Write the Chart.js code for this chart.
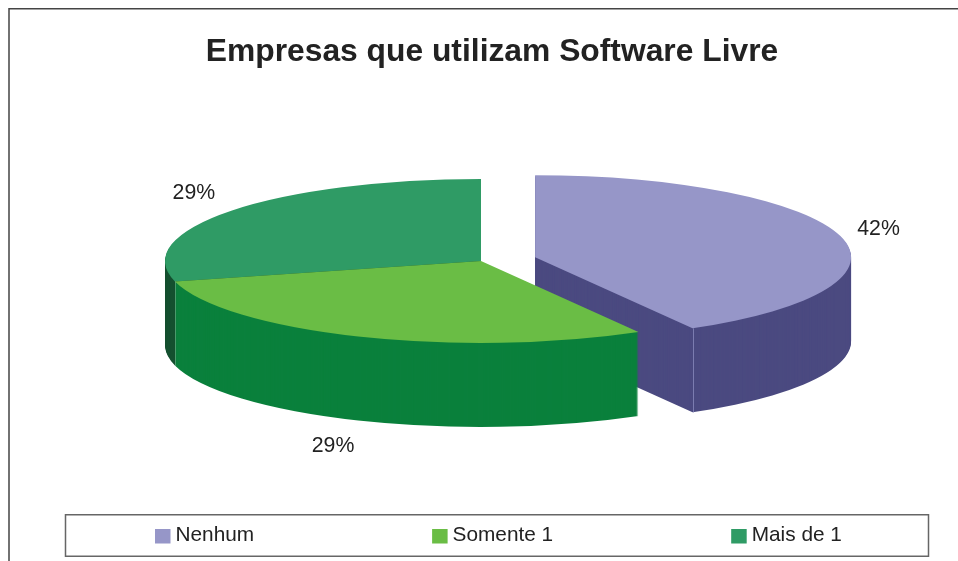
<!DOCTYPE html>
<html>
<head>
<meta charset="utf-8">
<style>html,body{margin:0;padding:0;background:#fff}canvas{display:block}</style>
<script src="https://cdn.jsdelivr.net/npm/chart.js@4"></script>
</head>
<body>
<canvas id="c" width="958" height="561"></canvas>
<script>
const titleText = 'Empresas que utilizam Software Livre';
const categories = ['Nenhum', 'Somente 1', 'Mais de 1'];
const shares = [41.7, 29.3, 29];
const pieColors = ['#9696C8', '#6ABD45', '#2F9B65'];
const wallColors = ['#4B4A80', '#0A803C', '#14502F'];
const wallEdgeColors = ['#7C7CB0', null, '#8FB59F'];

/* 3D look of the pie (style only) */
const pie = {cx: 481, cy: 261, r: 316, squash: 82 / 316, depth: 84};
const explode = [56, 0, 0];
const labelFx = [1.125, 1.205, 1.15];
const labelFy = [1.38, 1.327, 1.38];
const paintOrder = [0, 2, 1];

function place(ctx, arc, i, dy) {
  const mid = (arc.startAngle + arc.endAngle) / 2;
  const ex = Math.cos(mid) * explode[i], ey = Math.sin(mid) * explode[i];
  ctx.setTransform(1, 0, 0, pie.squash, pie.cx + ex, pie.cy + dy + ey * pie.squash);
  ctx.translate(-arc.x, -arc.y);
}

function wallEdge(ctx, arc, i, angle) {
  if (!wallEdgeColors[i]) return;
  const mid = (arc.startAngle + arc.endAngle) / 2;
  const x = pie.cx + Math.cos(mid) * explode[i] + Math.cos(angle) * pie.r;
  const y = pie.cy + Math.sin(mid) * explode[i] * pie.squash + Math.sin(angle) * pie.r * pie.squash;
  ctx.save();
  ctx.setTransform(1, 0, 0, 1, 0, 0);
  ctx.strokeStyle = wallEdgeColors[i]; ctx.lineWidth = 1;
  ctx.beginPath(); ctx.moveTo(Math.round(x) + 0.5, y); ctx.lineTo(Math.round(x) + 0.5, y + pie.depth); ctx.stroke();
  ctx.restore();
}

const pie3d = {
  id: 'pie3d',
  beforeDatasetDraw(chart, args) {
    const ctx = chart.ctx, arcs = args.meta.data;
    ctx.save();
    for (const i of paintOrder) {
      const arc = arcs[i];
      const saved = arc.options;
      arc.options = Object.assign(Object.create(saved), {backgroundColor: wallColors[i], borderColor: wallColors[i], borderWidth: 0});
      for (let d = pie.depth; d >= 1; d--) { ctx.save(); place(ctx, arc, i, d); arc.draw(ctx); ctx.restore(); }
      arc.options = saved;
      wallEdge(ctx, arc, i, i === 0 ? arc.endAngle : arc.startAngle);
    }
    for (const i of paintOrder) { ctx.save(); place(ctx, arcs[i], i, 0); arcs[i].draw(ctx); ctx.restore(); }
    ctx.restore();
    return false;
  },
  afterDraw(chart) {
    const ctx = chart.ctx, arcs = chart.getDatasetMeta(0).data;
    ctx.save();
    // outer frame
    ctx.strokeStyle = '#444'; ctx.lineWidth = 1.5;
    ctx.beginPath(); ctx.moveTo(9, 561); ctx.lineTo(9, 8.75); ctx.lineTo(958, 8.75); ctx.stroke();
    // percentage labels
    ctx.fillStyle = '#222'; ctx.font = '21.3px "Liberation Sans", Arial, sans-serif';
    ctx.textAlign = 'center'; ctx.textBaseline = 'middle';
    arcs.forEach((arc, i) => {
      const mid = (arc.startAngle + arc.endAngle) / 2;
      const ex = Math.cos(mid), ey = Math.sin(mid);
      const x = pie.cx + ex * explode[i] + ex * pie.r * labelFx[i];
      const y = pie.cy + ey * pie.r * pie.squash * labelFy[i] + ey * explode[i] * pie.squash + (ey > 0 ? pie.depth : 0);
      const total = shares.reduce((a, b) => a + b, 0);
      ctx.fillText(Math.round(shares[i] / total * 100) + '%', x, y + 1);
    });
    // legend
    ctx.strokeStyle = '#666'; ctx.lineWidth = 1.5;
    ctx.strokeRect(65.5, 514.75, 863, 41.5);
    ctx.textAlign = 'left';
    ctx.font = '20.8px "Liberation Sans", Arial, sans-serif';
    const gap = 178; let x = 155;
    categories.forEach((name, i) => {
      ctx.fillStyle = pieColors[i]; ctx.fillRect(x, 529, 15.5, 14.5);
      ctx.fillStyle = '#222'; ctx.fillText(name, x + 20.5, 535);
      x += 20.5 + ctx.measureText(name).width + gap;
    });
    ctx.restore();
  }
};

new Chart(document.getElementById('c'), {
  type: 'pie',
  data: {
    labels: categories,
    datasets: [{data: shares, backgroundColor: pieColors, borderWidth: 0, clip: false}]
  },
  plugins: [pie3d],
  options: {
    responsive: false,
    animation: false,
    radius: pie.r,
    layout: {padding: {left: 26, top: 33}},
    plugins: {
      legend: {display: false},
      tooltip: {enabled: false},
      title: {
        display: true, text: titleText, fullSize: false, color: '#222',
        font: {family: '"Liberation Sans", Arial, sans-serif', size: 31.8, weight: 'bold'},
        padding: {top: 0, bottom: 0}
      }
    }
  }
});
</script>
</body>
</html>
